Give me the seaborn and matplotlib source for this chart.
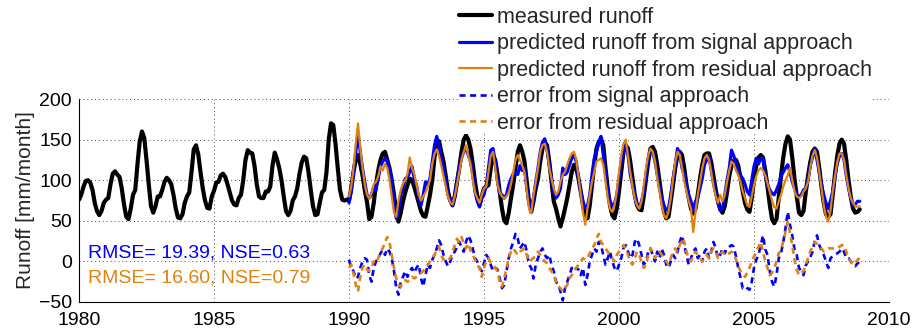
import numpy as np
import pandas as pd
import matplotlib
matplotlib.use("Agg")
import matplotlib.pyplot as plt
import seaborn as sns

sns.set_style("white")
plt.rcParams["font.family"] = ["Liberation Sans", "DejaVu Sans"]

# Monthly runoff [mm/month]; measured series starts Jan 1980, predictions start Jan 1990
measured_start = 1980
predicted_start = 1990

measured_runoff = [
    76, 82, 92, 99, 100, 97, 88, 72, 62, 57, 62, 72,
    76, 78, 95, 108, 111, 107, 104, 90, 70, 55, 52, 65,
    82, 88, 120, 148, 160, 152, 125, 95, 68, 60, 68, 80,
    80, 88, 98, 103, 100, 95, 82, 65, 54, 53, 58, 72,
    80, 85, 110, 138, 143, 132, 110, 90, 75, 66, 65, 80,
    87, 97, 98, 106, 108, 104, 95, 85, 75, 70, 69, 78,
    82, 100, 125, 137, 134, 133, 118, 95, 80, 78, 78, 86,
    86, 92, 118, 134, 126, 115, 100, 80, 62, 57, 62, 75,
    80, 90, 108, 122, 129, 127, 110, 88, 68, 57, 58, 72,
    85, 88, 110, 150, 170, 168, 145, 115, 88, 76, 75, 76,
    75, 90, 110, 125, 131, 120, 106, 88, 73, 52, 55, 72,
    95, 112, 125, 133, 135, 125, 115, 100, 82, 60, 49, 60,
    74, 85, 94, 102, 100, 92, 82, 72, 62, 56, 55, 68,
    82, 100, 128, 147, 148, 135, 123, 105, 86, 75, 69, 80,
    98, 115, 135, 150, 155, 150, 139, 120, 98, 80, 69, 80,
    90, 92, 94, 115, 130, 125, 107, 85, 65, 50, 47, 60,
    78, 95, 115, 135, 143, 135, 123, 98, 74, 61, 74, 90,
    102, 123, 139, 147, 143, 123, 98, 74, 65, 53, 43, 53,
    65, 78, 94, 110, 119, 115, 102, 86, 69, 57, 53, 69,
    94, 119, 139, 147, 151, 143, 115, 90, 69, 57, 53, 65,
    86, 110, 135, 143, 139, 123, 102, 82, 69, 64, 63, 80,
    102, 123, 139, 141, 135, 119, 98, 78, 61, 53, 55, 74,
    94, 115, 131, 135, 131, 115, 94, 78, 65, 59, 65, 82,
    102, 119, 131, 133, 133, 122, 105, 88, 74, 64, 60, 68,
    85, 105, 118, 124, 125, 118, 102, 86, 72, 64, 61, 78,
    100, 118, 128, 131, 128, 112, 92, 70, 52, 47, 52, 78,
    105, 128, 145, 154, 150, 128, 102, 80, 60, 57, 62, 85,
    105, 122, 135, 139, 135, 115, 92, 72, 58, 55, 58, 82,
    108, 130, 145, 150, 145, 125, 100, 80, 65, 60, 61, 64,
]

signal_runoff = [
    72, 86, 110, 135, 158, 135, 115, 98, 82, 78, 82, 92,
    88, 102, 117, 123, 127, 123, 113, 98, 69, 53, 61, 82,
    90, 102, 104, 110, 117, 102, 94, 78, 69, 82, 98, 94,
    102, 123, 143, 154, 143, 127, 115, 98, 82, 74, 69, 82,
    98, 115, 127, 135, 139, 131, 123, 107, 86, 74, 67, 78,
    82, 94, 115, 137, 139, 123, 98, 84, 82, 78, 82, 94,
    102, 108, 110, 107, 118, 112, 115, 90, 74, 65, 78, 98,
    115, 135, 147, 151, 139, 119, 102, 86, 78, 82, 90, 115,
    107, 110, 119, 127, 131, 123, 102, 86, 74, 65, 69, 82,
    107, 127, 135, 147, 154, 131, 107, 86, 74, 69, 71, 82,
    102, 123, 135, 143, 131, 107, 94, 82, 69, 65, 74, 86,
    107, 127, 137, 135, 123, 107, 90, 78, 69, 63, 65, 82,
    102, 119, 139, 133, 115, 107, 94, 82, 74, 63, 74, 78,
    90, 102, 119, 125, 129, 112, 96, 84, 72, 63, 65, 82,
    100, 115, 137, 130, 120, 112, 106, 102, 95, 86, 82, 100,
    117, 127, 120, 127, 127, 106, 95, 88, 84, 82, 88, 95,
    105, 110, 115, 119, 110, 98, 90, 82, 80, 82, 88, 90,
    100, 118, 128, 139, 125, 110, 95, 82, 72, 65, 75, 86,
    105, 120, 130, 133, 125, 106, 90, 78, 69, 70, 74, 74,
]

residual_runoff = [
    80, 92, 115, 145, 170, 140, 115, 95, 82, 77, 84, 95,
    98, 105, 117, 112, 120, 115, 100, 80, 60, 55, 75, 88,
    96, 100, 108, 128, 115, 108, 95, 82, 75, 80, 85, 92,
    100, 120, 132, 138, 130, 118, 105, 92, 80, 72, 70, 80,
    95, 110, 125, 135, 143, 130, 120, 100, 85, 78, 72, 82,
    90, 92, 110, 130, 135, 115, 95, 85, 80, 78, 80, 85,
    95, 110, 125, 131, 125, 118, 110, 88, 65, 59, 82, 98,
    115, 135, 143, 145, 135, 115, 102, 90, 82, 86, 98, 107,
    110, 119, 127, 133, 135, 125, 105, 82, 60, 45, 65, 82,
    98, 110, 123, 125, 127, 119, 98, 78, 65, 61, 69, 86,
    110, 131, 145, 150, 130, 110, 92, 78, 69, 65, 74, 94,
    115, 131, 139, 135, 123, 102, 86, 69, 57, 53, 61, 78,
    102, 123, 135, 131, 115, 98, 86, 74, 65, 36, 61, 82,
    98, 115, 127, 131, 125, 110, 92, 80, 72, 82, 74, 82,
    98, 112, 123, 120, 112, 106, 98, 86, 78, 69, 67, 80,
    94, 105, 112, 115, 112, 106, 96, 86, 75, 67, 65, 74,
    82, 92, 100, 106, 115, 100, 86, 80, 78, 80, 86, 90,
    98, 115, 130, 137, 128, 110, 90, 69, 55, 49, 62, 86,
    105, 122, 133, 133, 125, 106, 90, 78, 72, 68, 67, 68,
]

signal_error = [
    2, -8, -12, -21, -19, -8, 0, 4, 2, -17, -25, -8,
    0, 4, 10, 14, 8, 16, 12, 4, -12, -33, -41, -25,
    -19, -12, -19, -12, -8, -14, -8, -4, -21, -31, -17, -4,
    -8, 2, 8, 16, 26, 20, 8, 0, -6, 0, 8, 12,
    18, 24, 18, 12, 24, 32, 26, 16, 4, 0, -8, -12,
    -2, 8, 4, -4, -12, -8, -10, -21, -33, -29, -12, 4,
    16, 24, 34, 28, 16, 20, 24, 12, -4, -8, -21, -4,
    4, 12, 16, 8, 4, 8, -4, -12, -25, -29, -37, -48,
    -33, -25, -17, -8, -12, -8, -10, -17, -8, -29, -17, 0,
    8, 16, 12, 24, 20, 8, -4, 4, 12, 0, -8, -12,
    -4, 4, 16, 20, 12, 4, 8, 24, 28, 20, 8, -4,
    0, 12, 16, 8, 0, 12, 4, 16, 8, -4, -8, 0,
    8, 4, 12, 24, 32, 20, 8, -4, 4, 12, 16, 4,
    8, 0, 12, 16, 4, 12, 24, 16, 4, 8, 16, 10,
    16, 18, 20, 18, 6, -8, -20, -33, -31, -33, -35, -25,
    -8, 2, 8, 20, 32, 15, 8, -12, -25, -31, -17, 4,
    10, 24, 41, 61, 45, 32, 15, 8, -8, -12, -17, -5,
    0, 5, 12, 25, 32, 20, 14, 8, 0, -8, 4, 6,
    8, 10, 12, 16, 12, 4, 4, 0, -4, -6, -2, -2,
]

residual_error = [
    -8, -4, -15, -29, -37, -19, -8, -4, -10, -12, -8, 0,
    -2, 4, 12, 16, 24, 30, 24, 8, -8, -21, -29, -31,
    -25, -23, -25, -23, -19, -21, -19, -17, -14, -12, -8, -4,
    0, 4, 8, 14, 18, 8, 2, 4, 2, 4, 12, 20,
    28, 24, 30, 22, 16, 22, 14, 8, 2, -4, -8, -19,
    -8, 0, 4, -2, -4, -8, -12, -25, -31, -21, -8, 4,
    12, 16, 12, 8, 12, 14, 16, 8, 0, 2, 4, 8,
    12, 8, 4, 0, -2, -8, -12, -17, -25, -31, -33, -37,
    -33, -29, -21, -17, -12, -8, -4, 0, 4, 2, 4, 10,
    16, 20, 28, 34, 24, 20, 16, 12, 8, 4, 0, 8,
    12, 16, 20, 16, 8, 0, -4, 4, 12, 8, 0, -8,
    -4, 8, 16, 12, 4, 8, 12, 8, 4, 0, -4, 4,
    12, 16, 12, 20, 28, 24, 12, 4, 0, 8, 12, 8,
    4, 0, 4, 8, 4, 12, 16, 12, 4, 8, 12, 8,
    8, 10, 12, 10, 2, -6, -12, -16, -19, -14, -8, 0,
    6, 12, 18, 24, 12, 0, -8, -17, -14, -8, 0, 10,
    14, 25, 37, 49, 35, 20, 2, -10, -17, -14, -12, -4,
    4, 12, 18, 24, 22, 20, 16, 12, 14, 16, 16, 16,
    16, 16, 18, 20, 20, 12, 4, 0, -4, -2, 2, 4,
]

series_labels = [
    "measured runoff",
    "predicted runoff from signal approach",
    "predicted runoff from residual approach",
    "error from signal approach",
    "error from residual approach",
]
signal_stats = "RMSE= 19.39, NSE=0.63"
residual_stats = "RMSE= 16.60, NSE=0.79"

x_ticks = list(range(1980, 2011, 5))
y_ticks = list(range(-50, 201, 50))

BLUE = "#0000FF"
ORANGE = "#E0820E"

df_meas = pd.DataFrame({
    "year": measured_start + np.arange(len(measured_runoff)) / 12.0,
    "runoff": measured_runoff,
})
df_pred = pd.DataFrame({
    "year": predicted_start + np.arange(len(signal_runoff)) / 12.0,
    "signal": signal_runoff,
    "residual": residual_runoff,
    "err_signal": signal_error,
    "err_residual": residual_error,
})

W, H = 917, 328
fig = plt.figure(figsize=(W / 100, H / 100), dpi=100)
ax = fig.add_axes([79 / W, 26 / H, 810 / W, 203 / H])

common = dict(ax=ax, x="year", estimator=None, errorbar=None, sort=False)
sns.lineplot(data=df_meas, y="runoff", color="black", linewidth=3.0,
             label=series_labels[0], **common)
sns.lineplot(data=df_pred, y="signal", color=BLUE, linewidth=2.3,
             label=series_labels[1], **common)
sns.lineplot(data=df_pred, y="residual", color=ORANGE, linewidth=1.6,
             label=series_labels[2], **common)
sns.lineplot(data=df_pred, y="err_signal", color=BLUE, linewidth=1.9,
             label=series_labels[3], **common)
ax.lines[-1].set_dashes((2.3, 1.7))
sns.lineplot(data=df_pred, y="err_residual", color=ORANGE, linewidth=1.9,
             label=series_labels[4], **common)
ax.lines[-1].set_dashes((2.3, 1.7))

ax.set_xlim(1980, 2010)
ax.set_ylim(-50, 200)
ax.set_xticks(x_ticks)
ax.set_yticks(y_ticks)
ax.set_xticklabels([str(v) for v in x_ticks])
ax.set_yticklabels([str(v).replace("-", "\u2212") for v in y_ticks])
ax.grid(True, linestyle=(0, (1, 3)), color="0.3", linewidth=0.7)
ax.set_axisbelow(True)
for side in ("top", "right"):
    ax.spines[side].set_visible(False)
for side in ("left", "bottom"):
    ax.spines[side].set_color("black")
    ax.spines[side].set_linewidth(0.8)
ax.tick_params(direction="in", length=4, width=0.8, labelsize=14, pad=5,
               colors="black")
ax.tick_params(axis="x", pad=7.5)
ax.set_xlabel("")
ax.set_ylabel("Runoff [mm/month]", fontsize=15)
ax.yaxis.set_label_coords(-0.054, 0.5)

ax.text(1980.33, 10.7, signal_stats, color=BLUE, fontsize=14, va="center")
ax.text(1980.33, -20.4, residual_stats, color=ORANGE, fontsize=14, va="center")

leg = ax.legend(loc="upper left", bbox_to_anchor=(459 / W, 1.0 - 7 / H),
                bbox_transform=fig.transFigure, frameon=True, fancybox=False,
                fontsize=15.5, handlelength=1.55, handletextpad=0.2,
                labelspacing=0.25, borderpad=0.0, borderaxespad=0)
frame = leg.get_frame()
frame.set_facecolor("white")
frame.set_edgecolor("none")
frame.set_alpha(1.0)

fig.savefig("out.png", dpi=100, facecolor="white")
